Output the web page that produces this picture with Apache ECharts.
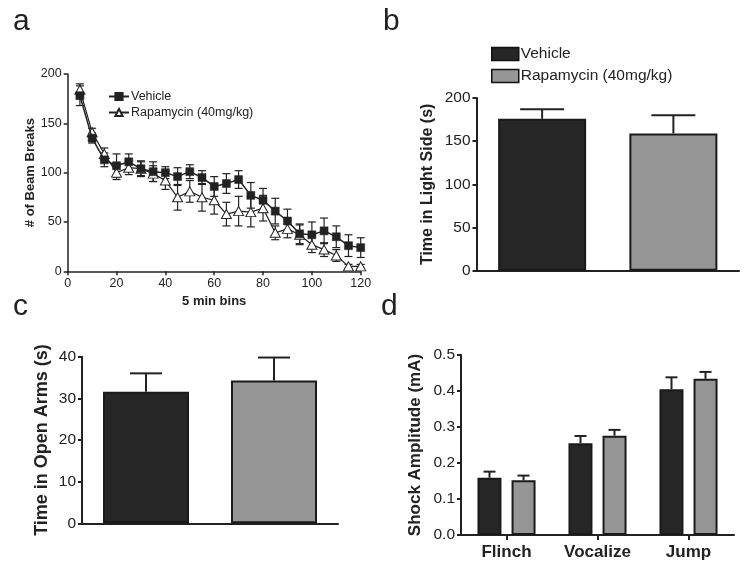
<!DOCTYPE html>
<html>
<head>
<meta charset="utf-8">
<script src="https://cdn.jsdelivr.net/npm/echarts@6/dist/echarts.min.js"></script>
<style>html,body{margin:0;padding:0;background:#fff;}#c{width:750px;height:570px;}</style>
</head>
<body>
<div id="c"></div>
<script>
// ---- Panel a: beam breaks over 5 min bins ----
const bins = [5,10,15,20,25,30,35,40,45,50,55,60,65,70,75,80,85,90,95,100,105,110,115,120];
const vehMean = [178,135,113,107,111,104,101,100,96,101,95,86,89,93,77,72,61,51,38,37,41,35,26,24];
const vehErr  = [10,5,7,12,8,8,10,6,9,7,7,10,10,9,13,12,13,12,10,13,13,11,11,10];
const rapMean = [184,141,119,100,105,104,99,92,75,81,75,72,58,61,60,64,39,43,37,27,22,16,5,5];
const rapErr  = [6,4,6,7,7,7,8,9,13,11,14,14,12,15,15,13,7,9,10,8,7,6,2,2];
// ---- Panel b: time in light side ----
const groups = ['Vehicle','Rapamycin (40mg/kg)'];
const lightMean = [176,159];
const lightErr  = [11,21];
// ---- Panel c: time in open arms ----
const armsMean = [31.6,34.3];
const armsErr  = [4.4,5.5];
// ---- Panel d: shock amplitude ----
const shockCats = ['Flinch','Vocalize','Jump'];
const shockVeh    = [0.159,0.255,0.405];
const shockVehErr = [0.017,0.020,0.033];
const shockRap    = [0.152,0.276,0.434];
const shockRapErr = [0.013,0.016,0.019];

const FONT = 'Liberation Sans, Arial, sans-serif';
const INK = '#222';
const DARK = '#262626';
const GRAY = '#969696';

function errRender(offsetPx, capHalf, both, lw) {
  return function (params, api) {
    const x = api.value(0), v = api.value(1), e = api.value(2);
    const top = api.coord([x, v + e]);
    const bot = api.coord([x, both ? v - e : v]);
    const cx = top[0] + offsetPx;
    const st = {stroke: INK, lineWidth: lw};
    const ch = [
      {type:'line', shape:{x1:cx, y1:top[1], x2:cx, y2:bot[1]}, style:st},
      {type:'line', shape:{x1:cx-capHalf, y1:top[1], x2:cx+capHalf, y2:top[1]}, style:st}
    ];
    if (both) ch.push({type:'line', shape:{x1:cx-capHalf, y1:bot[1], x2:cx+capHalf, y2:bot[1]}, style:st});
    return {type:'group', children: ch};
  };
}

function yAx(gi, min, max, interval, name, nameSize, nameGap, labelSize, lw, fmt) {
  return {
    type:'value', gridIndex:gi, min:min, max:max, interval:interval,
    name:name, nameLocation:'middle', nameGap:nameGap, nameRotate:90,
    nameTextStyle:{fontFamily:FONT, fontWeight:'bold', fontSize:nameSize, color:INK},
    axisLine:{show:true, lineStyle:{color:INK, width:lw}},
    axisTick:{show:true, length:4, lineStyle:{color:INK, width:lw}},
    axisLabel:{fontFamily:FONT, fontSize:labelSize, color:INK, margin:6, formatter: fmt},
    splitLine:{show:false}
  };
}

const letterStyle = {fontFamily:FONT, fontSize:30, fontWeight:'normal', color:INK};

const option = {
  backgroundColor:'#fff',
  animation:false,
  textStyle:{fontFamily:FONT},
  title:[
    {text:'a', left:13, top:7, padding:0, textStyle:letterStyle},
    {text:'b', left:383, top:7, padding:0, textStyle:letterStyle},
    {text:'c', left:13, top:292, padding:0, textStyle:letterStyle},
    {text:'d', left:381, top:292, padding:0, textStyle:letterStyle}
  ],
  legend:[
    {
      orient:'vertical', left:108, top:90, padding:0, itemWidth:20, itemHeight:9, itemGap:3,
      textStyle:{fontFamily:FONT, fontSize:12.5, color:INK, padding:[0,0,0,-3]},
      data:['Vehicle','Rapamycin (40mg/kg)']
    },
    {
      orient:'vertical', left:491, top:46, padding:0, itemWidth:27, itemHeight:13, itemGap:6,
      textStyle:{fontFamily:FONT, fontSize:15.5, color:INK, padding:[0,0,0,-3]},
      data:[
        {name:'Vehicle', icon:'rect', itemStyle:{color:DARK, borderColor:'#111', borderWidth:1.5}},
        {name:'Rapamycin (40mg/kg)', icon:'rect', itemStyle:{color:GRAY, borderColor:'#111', borderWidth:1.5}}
      ]
    }
  ],
  grid:[
    {left:67.7, top:74, width:293, height:197.3},
    {left:476.5, top:98, width:262.5, height:172.7},
    {left:82, top:356.7, width:256, height:166.6},
    {left:461, top:355, width:273, height:180}
  ],
  xAxis:[
    {
      type:'value', gridIndex:0, min:0, max:120, interval:20,
      name:'5 min bins', nameLocation:'middle', nameGap:24,
      nameTextStyle:{fontFamily:FONT, fontWeight:'bold', fontSize:13, color:INK},
      axisLine:{show:true, lineStyle:{color:INK, width:1.5}},
      axisTick:{show:true, length:4, lineStyle:{color:INK, width:1.5}},
      axisLabel:{fontFamily:FONT, fontSize:12.5, color:INK, margin:6},
      splitLine:{show:false}
    },
    {
      type:'category', gridIndex:1, data:groups,
      axisLine:{show:true, lineStyle:{color:INK, width:2}},
      axisTick:{show:false}, axisLabel:{show:false}
    },
    {
      type:'category', gridIndex:2, data:groups,
      axisLine:{show:true, lineStyle:{color:INK, width:2}},
      axisTick:{show:false}, axisLabel:{show:false}
    },
    {
      type:'category', gridIndex:3, data:shockCats,
      axisLine:{show:true, lineStyle:{color:INK, width:2}},
      axisTick:{show:true, alignWithLabel:true, length:5, lineStyle:{color:INK, width:2}},
      axisLabel:{fontFamily:FONT, fontWeight:'bold', fontSize:17, color:INK, margin:9}
    }
  ],
  yAxis:[
    yAx(0, 0, 200, 50, '# of Beam Breaks', 13, 26, 12.5, 1.5),
    yAx(1, 0, 200, 50, 'Time in Light Side (s)', 16, 41, 15.5, 2),
    yAx(2, 0, 40, 10, 'Time in Open Arms (s)', 18, 31, 15.5, 2),
    yAx(3, 0, 0.5, 0.1, 'Shock Amplitude (mA)', 17, 37, 15.5, 2, function(v){return v.toFixed(1);})
  ],
  series:[
    // panel a lines
    {
      name:'Vehicle', type:'line', xAxisIndex:0, yAxisIndex:0,
      data: bins.map((b,i)=>[b, vehMean[i]]),
      symbol:'rect', symbolSize:8, z:5,
      lineStyle:{color:INK, width:1.5},
      itemStyle:{color:INK, borderColor:INK, borderWidth:0.5}
    },
    {
      name:'Rapamycin (40mg/kg)', type:'line', xAxisIndex:0, yAxisIndex:0,
      data: bins.map((b,i)=>[b, rapMean[i]]),
      symbol:'triangle', symbolSize:[10,9], z:4,
      lineStyle:{color:INK, width:1.2},
      itemStyle:{color:'#fff', borderColor:INK, borderWidth:1}
    },
    {
      name:'errVeh', type:'custom', xAxisIndex:0, yAxisIndex:0, z:3,
      renderItem: errRender(0, 4, true, 1.2),
      data: bins.map((b,i)=>[b, vehMean[i], vehErr[i]])
    },
    {
      name:'errRap', type:'custom', xAxisIndex:0, yAxisIndex:0, z:3,
      renderItem: errRender(0, 4, true, 1.2),
      data: bins.map((b,i)=>[b, rapMean[i], rapErr[i]])
    },
    // panel b bars
    {
      name:'Vehicle', type:'bar', xAxisIndex:1, yAxisIndex:1, barWidth:88, barGap:'-100%',
      data:[lightMean[0], '-'],
      itemStyle:{color:DARK, borderColor:'#1a1a1a', borderWidth:2}
    },
    {
      name:'Rapamycin (40mg/kg)', type:'bar', xAxisIndex:1, yAxisIndex:1, barWidth:88, barGap:'-100%',
      data:['-', lightMean[1]],
      itemStyle:{color:GRAY, borderColor:'#1a1a1a', borderWidth:2}
    },
    {
      name:'errLight', type:'custom', xAxisIndex:1, yAxisIndex:1, z:1,
      renderItem: errRender(0, 22, false, 2),
      data: lightMean.map((m,i)=>[i, m, lightErr[i]])
    },
    // panel c bars
    {
      name:'Vehicle', type:'bar', xAxisIndex:2, yAxisIndex:2, barWidth:86, barGap:'-100%',
      data:[armsMean[0], '-'],
      itemStyle:{color:DARK, borderColor:'#1a1a1a', borderWidth:2}
    },
    {
      name:'Rapamycin (40mg/kg)', type:'bar', xAxisIndex:2, yAxisIndex:2, barWidth:86, barGap:'-100%',
      data:['-', armsMean[1]],
      itemStyle:{color:GRAY, borderColor:'#1a1a1a', borderWidth:2}
    },
    {
      name:'errArms', type:'custom', xAxisIndex:2, yAxisIndex:2, z:1,
      renderItem: errRender(0, 16, false, 2),
      data: armsMean.map((m,i)=>[i, m, armsErr[i]])
    },
    // panel d grouped bars
    {
      name:'Vehicle', type:'bar', xAxisIndex:3, yAxisIndex:3, barWidth:24, barGap:'42%',
      data: shockVeh,
      itemStyle:{color:DARK, borderColor:'#1a1a1a', borderWidth:2}
    },
    {
      name:'Rapamycin (40mg/kg)', type:'bar', xAxisIndex:3, yAxisIndex:3, barWidth:24, barGap:'42%',
      data: shockRap,
      itemStyle:{color:GRAY, borderColor:'#1a1a1a', borderWidth:2}
    },
    {
      name:'errShockVeh', type:'custom', xAxisIndex:3, yAxisIndex:3, z:1,
      renderItem: errRender(-17, 6, false, 2),
      data: shockVeh.map((m,i)=>[i, m, shockVehErr[i]])
    },
    {
      name:'errShockRap', type:'custom', xAxisIndex:3, yAxisIndex:3, z:1,
      renderItem: errRender(17, 6, false, 2),
      data: shockRap.map((m,i)=>[i, m, shockRapErr[i]])
    }
  ]
};

const chart = echarts.init(document.getElementById('c'), null, {renderer:'canvas'});
chart.setOption(option);
</script>
</body>
</html>
